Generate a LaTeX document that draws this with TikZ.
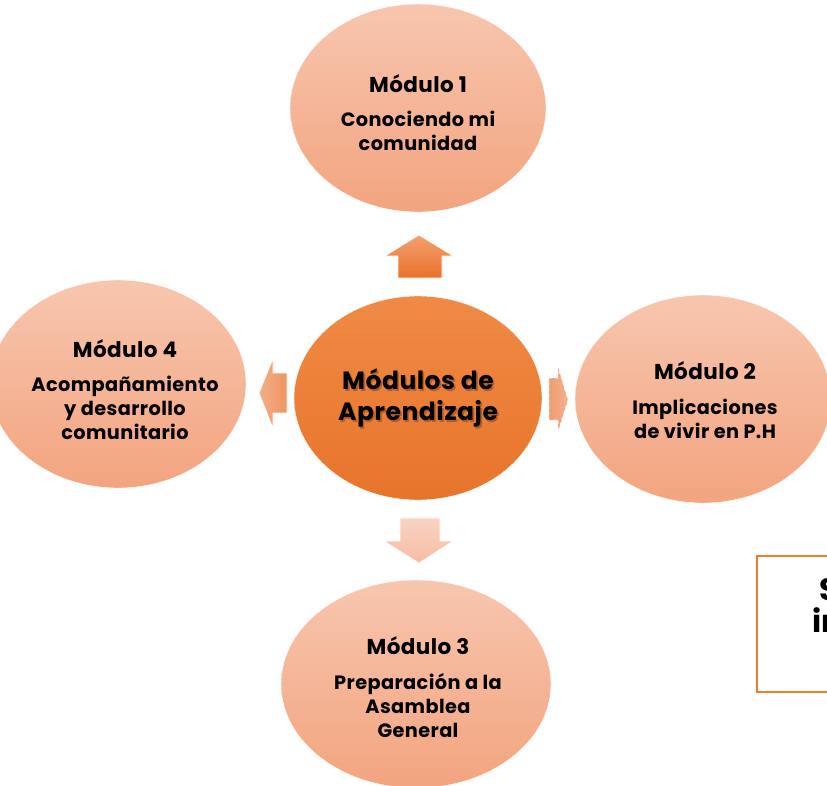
\documentclass[tikz,border=0pt]{standalone}
\usepackage{fontspec}
\setmainfont{Poppins}[LetterSpace=2]
\usetikzlibrary{shapes.geometric}
\definecolor{satA}{HTML}{F7C6AF}
\definecolor{satB}{HTML}{F3A47F}
\definecolor{cenA}{HTML}{F08A45}
\definecolor{cenB}{HTML}{E8742B}
\definecolor{boxor}{HTML}{ED7D31}
\definecolor{upA}{HTML}{F4A070}
\definecolor{upB}{HTML}{E9722A}
\definecolor{dnA}{HTML}{F9D3C3}
\definecolor{dnB}{HTML}{F6BCA6}
\definecolor{lfA}{HTML}{F4AE88}
\definecolor{lfB}{HTML}{EE955F}
\definecolor{rtA}{HTML}{F5B190}
\definecolor{rtB}{HTML}{F09C70}
\tikzset{
  sat/.style={ellipse, minimum width=256pt, minimum height=208pt, inner sep=0pt,
    top color=satA, bottom color=satB, draw=white, align=center},
  cen/.style={ellipse, minimum width=248pt, minimum height=204pt, inner sep=0pt,
    top color=cenA, bottom color=cenB, draw=white, align=center},
  ttl/.style={font=\fontsize{21.5}{24}\selectfont\bfseries, align=center},
  bdy/.style={font=\fontsize{19.3}{24}\selectfont\bfseries, align=center},
  ctt/.style={font=\fontsize{25}{31}\selectfont\bfseries, align=center},
  blk/.style={draw=white, line width=0.6pt},
}
\begin{document}
\begin{tikzpicture}[x=1pt,y=-1pt]
\useasboundingbox (0,0) rectangle (827,785);
% satellites
\node[sat] (m1) at (418,108) {};
\node[ttl] (m1t) at (418,84) {Módulo 1};
\node[bdy] (m1b) at (418,131) {Conociendo mi\\comunidad};
\node[sat] (m2) at (703,399) {};
\node[ttl] (m2t) at (705,371) {Módulo 2};
\node[bdy] (m2b) at (705,419) {Implicaciones\\de vivir en P.H};
\node[sat, minimum width=270pt] (m3) at (416,684) {};
\node[ttl] (m3t) at (418,646) {Módulo 3};
\node[bdy] (m3b) at (418,706) {Preparación a la\\Asamblea\\General};
\node[sat] (m4) at (118,384) {};
\node[ttl] (m4t) at (125,349) {Módulo 4};
\node[bdy] (m4b) at (125,408) {Acompañamiento\\y desarrollo\\comunitario};
% center
\node[cen] (c) at (418,398) {};
\node[ctt, text=black, opacity=0.25] (csh) at (419.6,399.6) {Módulos de\\Aprendizaje};
\node[ctt] (ct) at (418,398) {Módulos de\\Aprendizaje};
% block arrows
\shade[blk, top color=upA, bottom color=upB] (419,235) -- (453,256) -- (442,256) -- (442,278) -- (398,278) -- (398,256) -- (385,256) -- cycle;
\shade[blk, top color=dnA, bottom color=dnB] (400,518) -- (440,518) -- (440,541) -- (453,541) -- (419,563) -- (384,541) -- (400,541) -- cycle;
\shade[blk, left color=lfA, right color=lfB] (287,373) -- (287,413) -- (273,413) -- (273,428) -- (259,393) -- (273,359) -- (273,373) -- cycle;
\shade[blk, left color=rtB, right color=rtA, dashed] (549,378) -- (558,378) -- (558,367) -- (568,400) -- (558,432) -- (558,420) -- (549,420) -- cycle;
% partial box
\draw[boxor, line width=2.5pt] (757,556) rectangle (840,692);
\node[anchor=base west, font=\fontsize{31}{31}\selectfont\bfseries, inner sep=0pt] (bs) at (819,600) {S};
\node[anchor=base west, font=\fontsize{31}{31}\selectfont\bfseries, inner sep=0pt] (bi) at (812,632) {in};
\end{tikzpicture}
\end{document}
